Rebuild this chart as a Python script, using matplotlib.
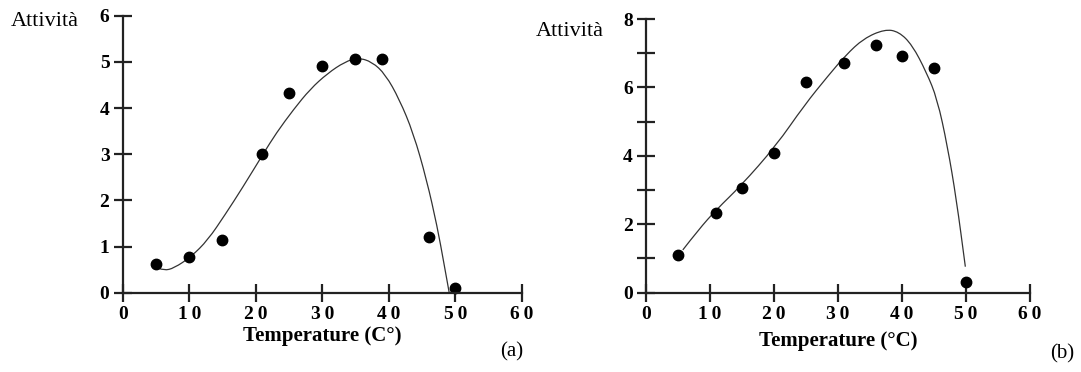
import matplotlib.pyplot as plt
from matplotlib.path import Path
from matplotlib.patches import PathPatch
from matplotlib.ticker import MultipleLocator, FuncFormatter

plt.rcParams["font.family"] = ["Liberation Serif", "DejaVu Serif"]

temp_a = [5, 10, 15, 21, 25, 30, 35, 39, 46, 50]
act_a = [0.62, 0.78, 1.15, 3.0, 4.32, 4.9, 5.07, 5.07, 1.2, 0.1]
curve_x_a = [5.4, 6.2, 7.7, 10.3, 12.8, 15.4, 18.0, 21.1, 23.1, 25.7, 28.2,
             30.8, 33.4, 35.4, 37.5, 39.5, 41.6, 43.7, 45.7, 47.3, 48.3, 49.1]
curve_y_a = [0.53, 0.48, 0.53, 0.78, 1.14, 1.69, 2.27, 3.0, 3.46, 3.97, 4.41,
             4.75, 5.0, 5.09, 5.0, 4.73, 4.19, 3.46, 2.45, 1.43, 0.64, 0.0]

# Panel (b)
temp_b = [5, 11, 15, 20, 25, 31, 36, 40, 45, 50]
act_b = [1.11, 2.33, 3.07, 4.07, 6.16, 6.72, 7.24, 6.92, 6.58, 0.32]
curve_x_b = [5.75, 8.2, 11.0, 14.8, 20.3, 24.7, 28.5, 31.2, 34.0, 37.3, 39.5,
             41.6, 43.8, 45.5, 47.1, 48.5, 49.9]
curve_y_b = [1.25, 1.84, 2.43, 3.12, 4.29, 5.47, 6.35, 6.94, 7.43, 7.70, 7.63,
             7.24, 6.45, 5.67, 4.29, 2.73, 0.76]


def smooth_curve(ax, xs, ys):
    """Draw the read points as a quadratic bezier chain so the fit looks smooth."""
    pts = list(zip(xs, ys))
    verts = [pts[0]]
    codes = [Path.MOVETO]
    for i in range(1, len(pts) - 1):
        mid = ((pts[i][0] + pts[i + 1][0]) / 2, (pts[i][1] + pts[i + 1][1]) / 2)
        verts += [pts[i], mid]
        codes += [Path.CURVE3, Path.CURVE3]
    verts.append(pts[-1])
    codes.append(Path.LINETO)
    ax.add_patch(PathPatch(Path(verts, codes), fill=False,
                           edgecolor="#333333", lw=0.9))


def spaced(v, pos):
    # the scan shows the digits of the x tick labels slightly spread apart
    return "\u2009".join(str(int(v)))


def style_axes(ax, ymax, xlabel, labelpad):
    """Bare two-spine axes with crossing ticks, like the scanned figure."""
    for side in ("top", "right"):
        ax.spines[side].set_visible(False)
    for side in ("left", "bottom"):
        ax.spines[side].set_linewidth(1.6)
        ax.spines[side].set_color("#222222")
    ax.set_xlim(0, 60)
    ax.set_ylim(0, ymax)
    ax.xaxis.set_major_locator(MultipleLocator(10))
    ax.xaxis.set_major_formatter(FuncFormatter(spaced))
    ax.tick_params(which="both", direction="inout", length=13, width=1.6,
                   color="#222222", labelsize=14, pad=3)
    for lab in ax.get_xticklabels() + ax.get_yticklabels():
        lab.set_fontweight("bold")
    ax.set_xlabel(xlabel, fontsize=15, fontweight="bold", labelpad=labelpad)


fig = plt.figure(figsize=(10.81, 3.72), dpi=100)

ax_a = fig.add_axes([0.1135, 0.2132, 0.3691, 0.7446])
smooth_curve(ax_a, curve_x_a, curve_y_a)
ax_a.plot(temp_a, act_a, "o", color="black", markersize=7.5, clip_on=False)
ax_a.yaxis.set_major_locator(MultipleLocator(1))
style_axes(ax_a, 6, "Temperature (C°)", 2)

ax_b = fig.add_axes([0.5976, 0.2132, 0.3552, 0.7357])
smooth_curve(ax_b, curve_x_b, curve_y_b)
ax_b.plot(temp_b, act_b, "o", color="black", markersize=7.5, clip_on=False)
ax_b.yaxis.set_major_locator(MultipleLocator(2))
ax_b.yaxis.set_minor_locator(MultipleLocator(1))
style_axes(ax_b, 8, "Temperature (°C)", 6)

fig.text(45 / 1081, 1 - 22 / 372, "Attività", fontsize=16, ha="center", va="center")
fig.text(570 / 1081, 1 - 32 / 372, "Attività", fontsize=16, ha="center", va="center")
fig.text(512 / 1081, 1 - 352 / 372, "(a)", fontsize=15, ha="center", va="center")
fig.text(1062 / 1081, 1 - 354 / 372, "(b)", fontsize=15, ha="center", va="center")

fig.savefig("out.png", dpi=100)
